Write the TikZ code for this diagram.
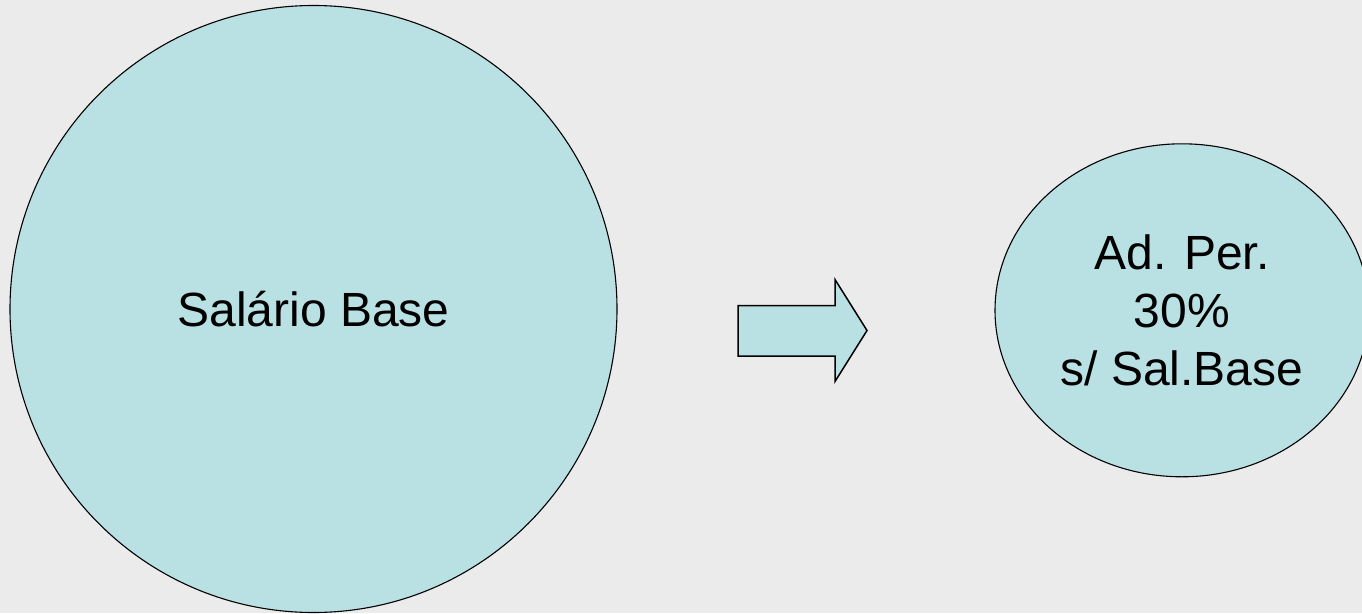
\documentclass[tikz,border=0pt]{standalone}
\usepackage{fontspec}
\setmainfont{Liberation Sans}
\usepackage{tikz}
\usetikzlibrary{positioning, shapes.geometric}

\definecolor{fundo}{HTML}{EBEBEB}
\definecolor{agua}{HTML}{B9E0E3}

\begin{document}
\begin{tikzpicture}[
				x=1pt, y=-1pt,
				bolha/.style={
					draw=black,
					line width=1.1pt,
					fill=agua,
					inner sep=0pt,
					align=center,
					font=\fontsize{48}{57.6}\selectfont
				},
				seta/.style={
					draw=black,
					line width=1.5pt,
					fill=agua,
					line join=miter
				}
				]
				
				% Background
				\clip (0,0) rectangle (1362,613);
				\fill[fundo] (0,0) rectangle (1362,613);
				
				% Circles
				\node[bolha, circle, minimum size=607pt] (base) at (313.5,309) {Salário Base};
				
				\node[bolha, ellipse, minimum width=374pt, minimum height=333pt] (adicional) at (1182,310.3)
				{Ad. Per.\\ 30\%\\ s/ Sal.Base};
				
				% Block arrow
				\draw[seta] (738,305.5) -- (835,305.5) -- (835,279.5) -- (867,330.5)
				-- (835,381.5) -- (835,356) -- (738,356) -- cycle;
				
			\end{tikzpicture}
\end{document}
